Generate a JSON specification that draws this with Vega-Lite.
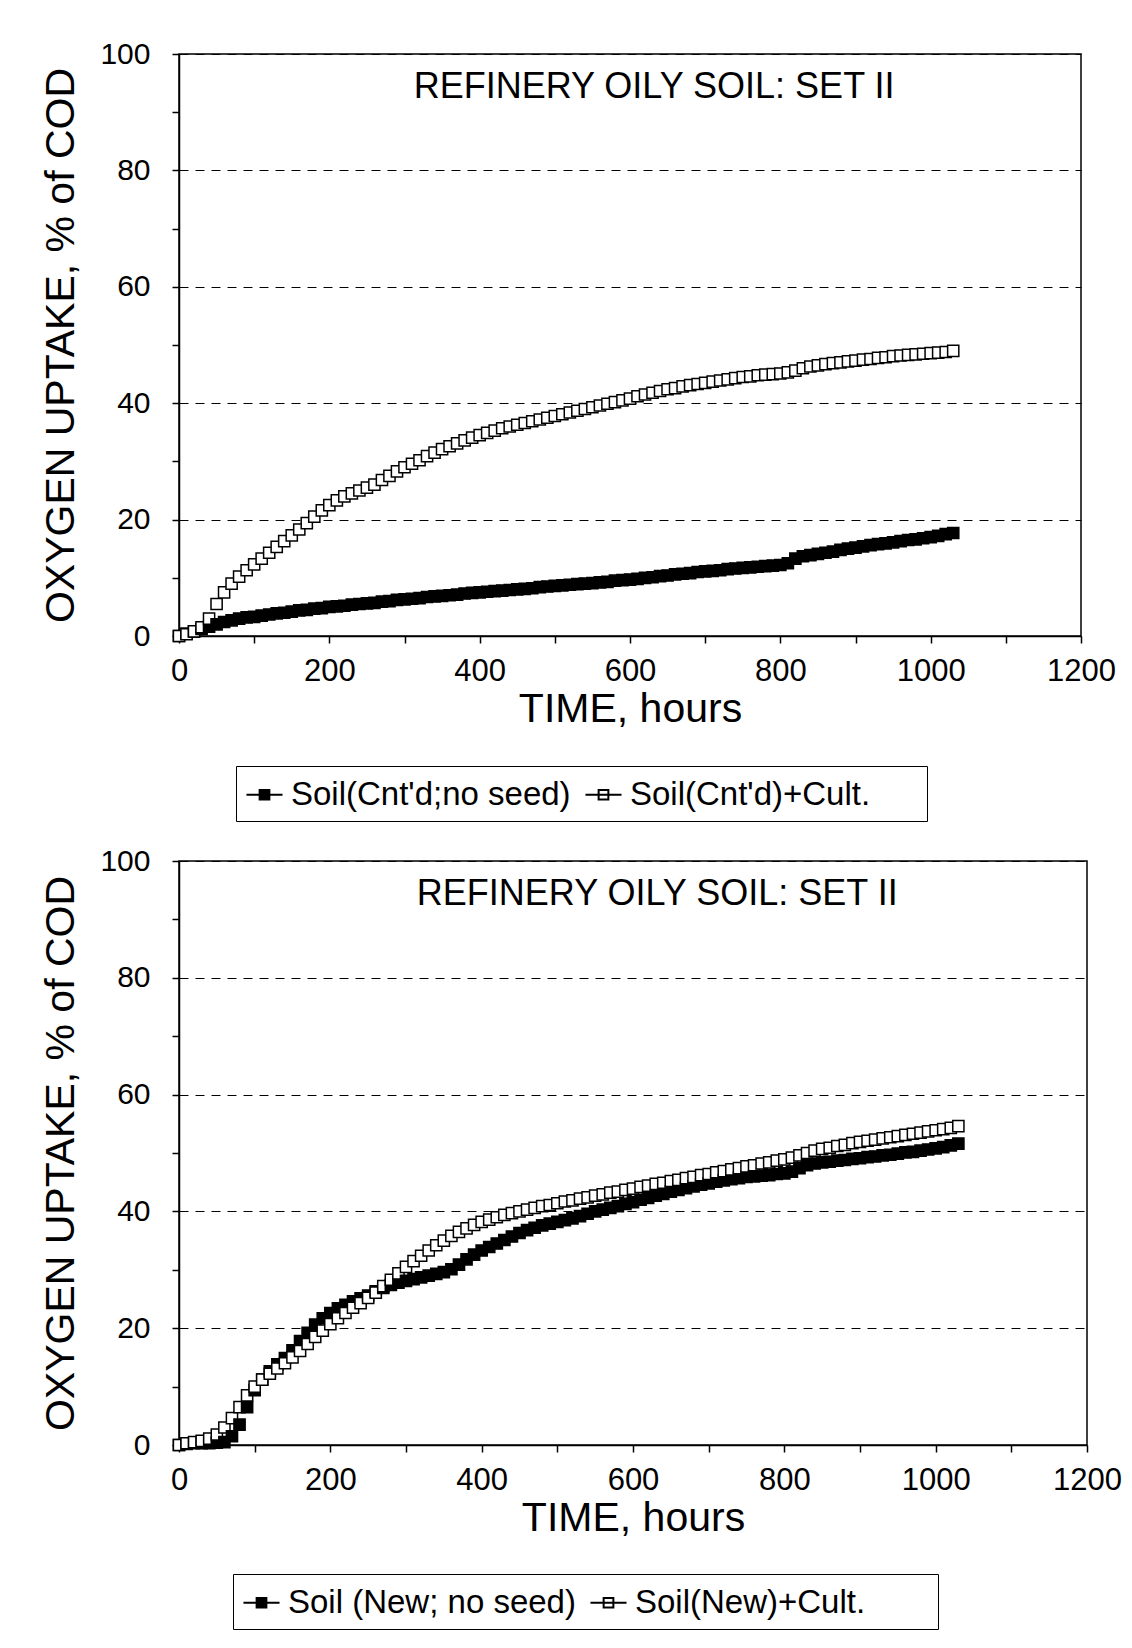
{
"$schema": "https://vega.github.io/schema/vega-lite/v6.json",
"background": "white",
"padding": {"left": 40, "top": 38, "right": 0, "bottom": 0},
"bounds": "flush",
"spacing": 225,
"config": {
  "view": {"stroke": "black", "strokeWidth": 1.5},
  "font": "Liberation Sans",
  "axis": {"domainColor": "black", "domainWidth": 1.5, "tickColor": "black", "tickWidth": 1.5, "tickSize": 7, "labelColor": "black", "titleColor": "black", "labelFont": "Liberation Sans", "titleFont": "Liberation Sans", "titleFontWeight": "normal", "gridColor": "black", "gridDash": [9, 7], "gridWidth": 1, "labelOverlap": false, "labelBound": false, "labelFlush": false, "format": "d"}
},
"resolve": {"scale": {"fill": "independent"}, "legend": {"fill": "independent"}},
"datasets": {
 "top": [
{"t":0,"a":0,"b":0},{"t":10,"a":0.4,"b":0.3},{"t":20,"a":0.8,"b":0.8},{"t":30,"a":1.2,"b":1.5},{"t":40,"a":1.6,"b":3.0},{"t":50,"a":2.0,"b":5.5},{"t":60,"a":2.4,"b":7.5},{"t":70,"a":2.7,"b":9.0},{"t":80,"a":3.0,"b":10.2},{"t":90,"a":3.2,"b":11.3},
{"t":100,"a":3.3,"b":12.3},{"t":110,"a":3.5,"b":13.3},{"t":120,"a":3.7,"b":14.3},{"t":130,"a":3.9,"b":15.3},{"t":140,"a":4.0,"b":16.3},{"t":150,"a":4.2,"b":17.3},{"t":160,"a":4.4,"b":18.3},{"t":170,"a":4.5,"b":19.4},{"t":180,"a":4.7,"b":20.5},{"t":190,"a":4.8,"b":21.6},
{"t":200,"a":5.0,"b":22.5},{"t":210,"a":5.1,"b":23.3},{"t":220,"a":5.2,"b":24.0},{"t":230,"a":5.4,"b":24.5},{"t":240,"a":5.5,"b":25.0},{"t":250,"a":5.6,"b":25.5},{"t":260,"a":5.7,"b":26.0},{"t":270,"a":5.9,"b":26.8},{"t":280,"a":6.0,"b":27.5},{"t":290,"a":6.2,"b":28.3},
{"t":300,"a":6.3,"b":29.0},{"t":310,"a":6.4,"b":29.6},{"t":320,"a":6.5,"b":30.2},{"t":330,"a":6.7,"b":30.9},{"t":340,"a":6.8,"b":31.5},{"t":350,"a":6.9,"b":32.1},{"t":360,"a":7.0,"b":32.6},{"t":370,"a":7.1,"b":33.1},{"t":380,"a":7.3,"b":33.6},{"t":390,"a":7.4,"b":34.1},
{"t":400,"a":7.5,"b":34.5},{"t":410,"a":7.6,"b":34.9},{"t":420,"a":7.7,"b":35.3},{"t":430,"a":7.8,"b":35.7},{"t":440,"a":7.9,"b":36.0},{"t":450,"a":8.0,"b":36.3},{"t":460,"a":8.1,"b":36.6},{"t":470,"a":8.2,"b":36.9},{"t":480,"a":8.4,"b":37.2},{"t":490,"a":8.5,"b":37.5},
{"t":500,"a":8.6,"b":37.8},{"t":510,"a":8.7,"b":38.1},{"t":520,"a":8.8,"b":38.4},{"t":530,"a":8.9,"b":38.7},{"t":540,"a":9.0,"b":39.0},{"t":550,"a":9.1,"b":39.3},{"t":560,"a":9.2,"b":39.6},{"t":570,"a":9.3,"b":39.9},{"t":580,"a":9.5,"b":40.2},{"t":590,"a":9.6,"b":40.5},
{"t":600,"a":9.7,"b":40.8},{"t":610,"a":9.8,"b":41.2},{"t":620,"a":10.0,"b":41.5},{"t":630,"a":10.1,"b":41.8},{"t":640,"a":10.3,"b":42.1},{"t":650,"a":10.4,"b":42.4},{"t":660,"a":10.6,"b":42.6},{"t":670,"a":10.7,"b":42.9},{"t":680,"a":10.8,"b":43.1},{"t":690,"a":11.0,"b":43.3},
{"t":700,"a":11.1,"b":43.5},{"t":710,"a":11.2,"b":43.7},{"t":720,"a":11.3,"b":43.9},{"t":730,"a":11.5,"b":44.1},{"t":740,"a":11.6,"b":44.3},{"t":750,"a":11.7,"b":44.5},{"t":760,"a":11.8,"b":44.6},{"t":770,"a":11.9,"b":44.8},{"t":780,"a":12.0,"b":44.9},{"t":790,"a":12.1,"b":45.0},
{"t":800,"a":12.2,"b":45.1},{"t":810,"a":12.5,"b":45.3},{"t":820,"a":13.3,"b":45.6},{"t":830,"a":13.7,"b":46.0},{"t":840,"a":13.9,"b":46.3},{"t":850,"a":14.1,"b":46.5},{"t":860,"a":14.3,"b":46.7},{"t":870,"a":14.5,"b":46.9},{"t":880,"a":14.8,"b":47.0},{"t":890,"a":15.0,"b":47.2},
{"t":900,"a":15.2,"b":47.3},{"t":910,"a":15.4,"b":47.5},{"t":920,"a":15.6,"b":47.6},{"t":930,"a":15.8,"b":47.8},{"t":940,"a":15.9,"b":47.9},{"t":950,"a":16.1,"b":48.1},{"t":960,"a":16.3,"b":48.2},{"t":970,"a":16.5,"b":48.3},{"t":980,"a":16.6,"b":48.4},{"t":990,"a":16.8,"b":48.5},
{"t":1000,"a":17.0,"b":48.6},{"t":1010,"a":17.2,"b":48.7},{"t":1020,"a":17.5,"b":48.8},{"t":1030,"a":17.7,"b":49.0}
 ],
 "bot": [
{"t":0,"a":0,"b":0},{"t":10,"a":0.2,"b":0.3},{"t":20,"a":0.3,"b":0.5},{"t":30,"a":0.3,"b":0.7},{"t":40,"a":0.3,"b":1.1},{"t":50,"a":0.4,"b":1.8},{"t":60,"a":0.5,"b":3.0},{"t":70,"a":1.5,"b":4.6},{"t":80,"a":3.5,"b":6.5},{"t":90,"a":6.5,"b":8.5},
{"t":100,"a":9.4,"b":10.0},{"t":110,"a":11.2,"b":11.2},{"t":120,"a":12.6,"b":12.2},{"t":130,"a":13.8,"b":13.1},{"t":140,"a":14.9,"b":14.0},{"t":150,"a":16.2,"b":15.0},{"t":160,"a":17.8,"b":16.1},{"t":170,"a":19.2,"b":17.3},{"t":180,"a":20.6,"b":18.5},{"t":190,"a":21.7,"b":19.6},
{"t":200,"a":22.6,"b":20.7},{"t":210,"a":23.4,"b":21.7},{"t":220,"a":24.0,"b":22.6},{"t":230,"a":24.6,"b":23.5},{"t":240,"a":25.1,"b":24.3},{"t":250,"a":25.6,"b":25.2},{"t":260,"a":26.3,"b":26.1},{"t":270,"a":26.9,"b":27.2},{"t":280,"a":27.4,"b":28.3},{"t":290,"a":27.8,"b":29.4},
{"t":300,"a":28.1,"b":30.5},{"t":310,"a":28.4,"b":31.5},{"t":320,"a":28.7,"b":32.4},{"t":330,"a":29.0,"b":33.3},{"t":340,"a":29.3,"b":34.2},{"t":350,"a":29.6,"b":35.0},{"t":360,"a":30.1,"b":35.8},{"t":370,"a":30.9,"b":36.5},{"t":380,"a":31.8,"b":37.1},{"t":390,"a":32.6,"b":37.7},
{"t":400,"a":33.3,"b":38.2},{"t":410,"a":33.9,"b":38.6},{"t":420,"a":34.5,"b":39.0},{"t":430,"a":35.1,"b":39.4},{"t":440,"a":35.7,"b":39.7},{"t":450,"a":36.3,"b":40.0},{"t":460,"a":36.8,"b":40.3},{"t":470,"a":37.2,"b":40.6},{"t":480,"a":37.6,"b":40.9},{"t":490,"a":37.9,"b":41.1},
{"t":500,"a":38.2,"b":41.4},{"t":510,"a":38.5,"b":41.7},{"t":520,"a":38.8,"b":41.9},{"t":530,"a":39.2,"b":42.2},{"t":540,"a":39.6,"b":42.4},{"t":550,"a":40.0,"b":42.7},{"t":560,"a":40.3,"b":42.9},{"t":570,"a":40.6,"b":43.2},{"t":580,"a":40.9,"b":43.4},{"t":590,"a":41.3,"b":43.7},
{"t":600,"a":41.6,"b":43.9},{"t":610,"a":42.0,"b":44.2},{"t":620,"a":42.3,"b":44.4},{"t":630,"a":42.7,"b":44.7},{"t":640,"a":43.0,"b":44.9},{"t":650,"a":43.4,"b":45.2},{"t":660,"a":43.7,"b":45.4},{"t":670,"a":44.0,"b":45.7},{"t":680,"a":44.3,"b":45.9},{"t":690,"a":44.6,"b":46.2},
{"t":700,"a":44.8,"b":46.4},{"t":710,"a":45.1,"b":46.7},{"t":720,"a":45.3,"b":46.9},{"t":730,"a":45.5,"b":47.2},{"t":740,"a":45.7,"b":47.4},{"t":750,"a":45.9,"b":47.7},{"t":760,"a":46.0,"b":47.9},{"t":770,"a":46.1,"b":48.2},{"t":780,"a":46.2,"b":48.4},{"t":790,"a":46.4,"b":48.7},
{"t":800,"a":46.5,"b":48.9},{"t":810,"a":46.8,"b":49.2},{"t":820,"a":47.4,"b":49.6},{"t":830,"a":47.9,"b":50.0},{"t":840,"a":48.2,"b":50.4},{"t":850,"a":48.4,"b":50.7},{"t":860,"a":48.5,"b":50.9},{"t":870,"a":48.7,"b":51.2},{"t":880,"a":48.8,"b":51.4},{"t":890,"a":49.0,"b":51.7},
{"t":900,"a":49.1,"b":51.9},{"t":910,"a":49.3,"b":52.1},{"t":920,"a":49.4,"b":52.3},{"t":930,"a":49.6,"b":52.5},{"t":940,"a":49.7,"b":52.7},{"t":950,"a":49.9,"b":52.9},{"t":960,"a":50.1,"b":53.1},{"t":970,"a":50.2,"b":53.3},{"t":980,"a":50.4,"b":53.5},{"t":990,"a":50.6,"b":53.7},
{"t":1000,"a":50.8,"b":53.9},{"t":1010,"a":51.0,"b":54.1},{"t":1020,"a":51.3,"b":54.3},{"t":1030,"a":51.6,"b":54.6}
 ]
},
"vconcat": [
 {
  "width": 902, "height": 582,
  "layer": [
   {
    "data": {"name": "top"},
    "transform": [{"fold": ["a", "b"], "as": ["s", "y"]}],
    "mark": {"type": "point", "shape": "square", "filled": true, "size": 125, "stroke": "black", "strokeWidth": 1.5, "opacity": 1},
    "encoding": {
     "x": {"field": "t", "type": "quantitative", "scale": {"domain": [0, 1200], "nice": false},
       "axis": {"title": "TIME, hours", "values": [0,100,200,300,400,500,600,700,800,900,1000,1100,1200], "labelExpr": "datum.value % 200 == 0 ? datum.label : ''", "grid": false, "labelFontSize": 31, "labelPadding": 13, "titleFontSize": 41, "titlePadding": 3}},
     "y": {"field": "y", "type": "quantitative", "scale": {"domain": [0, 100], "nice": false},
       "axis": {"title": "OXYGEN UPTAKE, % of COD", "values": [0,10,20,30,40,50,60,70,80,90,100], "labelExpr": "datum.value % 20 == 0 ? datum.label : ''", "grid": true, "gridOpacity": {"condition": {"test": "datum.value % 20 != 0", "value": 0}, "value": 1}, "labelFontSize": 30, "labelPadding": 22, "titleFontSize": 41, "titlePadding": 17}},
     "fill": {"field": "s", "type": "nominal", "scale": {"domain": ["a", "b"], "range": ["black", "white"]},
       "legend": {"orient": "none", "legendX": 57, "legendY": 712, "direction": "horizontal", "columns": 2, "title": "\u00a0", "titleOrient": "right", "titlePadding": 48, "titleFontSize": 33, "strokeColor": "black", "fillColor": "white", "padding": 9, "symbolType": "M-1,0H1M-0.27,-0.27H0.27V0.27H-0.27Z", "symbolSize": 1300, "symbolStrokeColor": "black", "symbolStrokeWidth": 2, "labelFontSize": 33, "labelFont": "Liberation Sans", "labelColor": "black", "labelLimit": 500, "columnPadding": 10, "labelOffset": 7, "labelExpr": "datum.value == 'a' ? \"Soil(Cnt'd;no seed)\" : \"Soil(Cnt'd)+Cult.\""}}
    }
   },
   {
    "data": {"values": [{}]},
    "mark": {"type": "text", "fontSize": 36, "font": "Liberation Sans", "color": "black"},
    "encoding": {"x": {"datum": 632}, "y": {"datum": 94.3}, "text": {"value": "REFINERY OILY SOIL: SET II"}}
   }
  ]
 },
 {
  "width": 908, "height": 584,
  "layer": [
   {
    "data": {"name": "bot"},
    "transform": [{"fold": ["a", "b"], "as": ["s", "y"]}],
    "mark": {"type": "point", "shape": "square", "filled": true, "size": 125, "stroke": "black", "strokeWidth": 1.5, "opacity": 1},
    "encoding": {
     "x": {"field": "t", "type": "quantitative", "scale": {"domain": [0, 1200], "nice": false},
       "axis": {"title": "TIME, hours", "values": [0,100,200,300,400,500,600,700,800,900,1000,1100,1200], "labelExpr": "datum.value % 200 == 0 ? datum.label : ''", "grid": false, "labelFontSize": 31, "labelPadding": 13, "titleFontSize": 41, "titlePadding": 3}},
     "y": {"field": "y", "type": "quantitative", "scale": {"domain": [0, 100], "nice": false},
       "axis": {"title": "OXYGEN UPTAKE, % of COD", "values": [0,10,20,30,40,50,60,70,80,90,100], "labelExpr": "datum.value % 20 == 0 ? datum.label : ''", "grid": true, "gridOpacity": {"condition": {"test": "datum.value % 20 != 0", "value": 0}, "value": 1}, "labelFontSize": 30, "labelPadding": 22, "titleFontSize": 41, "titlePadding": 17}},
     "fill": {"field": "s", "type": "nominal", "scale": {"domain": ["a", "b"], "range": ["black", "white"]},
       "legend": {"orient": "none", "legendX": 54, "legendY": 713, "direction": "horizontal", "columns": 2, "title": "\u00a0", "titleOrient": "right", "titlePadding": 64, "titleFontSize": 33, "strokeColor": "black", "fillColor": "white", "padding": 9, "symbolType": "M-1,0H1M-0.27,-0.27H0.27V0.27H-0.27Z", "symbolSize": 1300, "symbolStrokeColor": "black", "symbolStrokeWidth": 2, "labelFontSize": 33, "labelFont": "Liberation Sans", "labelColor": "black", "labelLimit": 500, "columnPadding": 10, "labelOffset": 7, "labelExpr": "datum.value == 'a' ? 'Soil (New; no seed)' : 'Soil(New)+Cult.'"}}
    }
   },
   {
    "data": {"values": [{}]},
    "mark": {"type": "text", "fontSize": 36, "font": "Liberation Sans", "color": "black"},
    "encoding": {"x": {"datum": 632}, "y": {"datum": 94.3}, "text": {"value": "REFINERY OILY SOIL: SET II"}}
   }
  ]
 }
]
}
